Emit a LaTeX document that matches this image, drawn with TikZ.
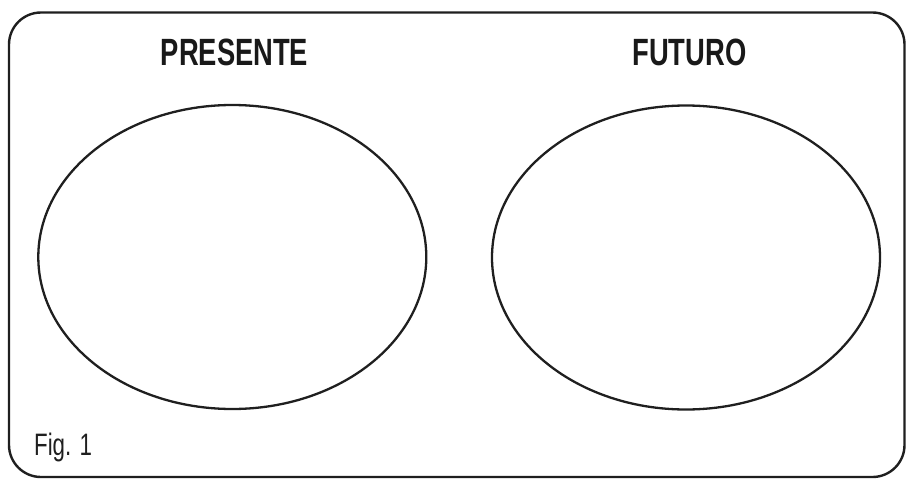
\documentclass[tikz,border=0pt]{standalone}
\usepackage{fontspec}
\setmainfont{Liberation Sans}
\begin{document}
\begin{tikzpicture}[x=1pt,y=-1pt,
  frame/.style={draw=black!88,line width=2.4pt,rounded corners=32pt},
  oval/.style={draw=black!88,line width=2.3pt},
  title/.style={font=\bfseries\fontsize{38}{38}\selectfont,xscale=0.72,inner sep=0pt,text=black!90},
  figlabel/.style={font=\fontsize{31}{31}\selectfont,xscale=0.72,inner sep=0pt,anchor=base west,text=black!88}]
\useasboundingbox (0,0) rectangle (908,479);
\draw[frame] (9,12.5) rectangle (904.5,477);
\draw[oval] (232.3,257) ellipse [x radius=194, y radius=152];
\draw[oval] (686,257.5) ellipse [x radius=194, y radius=152];
\node[title,anchor=base] (presente) at (234.5,65) {PRESENTE};
\node[title,anchor=base] (futuro) at (689.5,65) {FUTURO};
\node[figlabel] (fig) at (34,455) {Fig. 1};
\end{tikzpicture}
\end{document}
